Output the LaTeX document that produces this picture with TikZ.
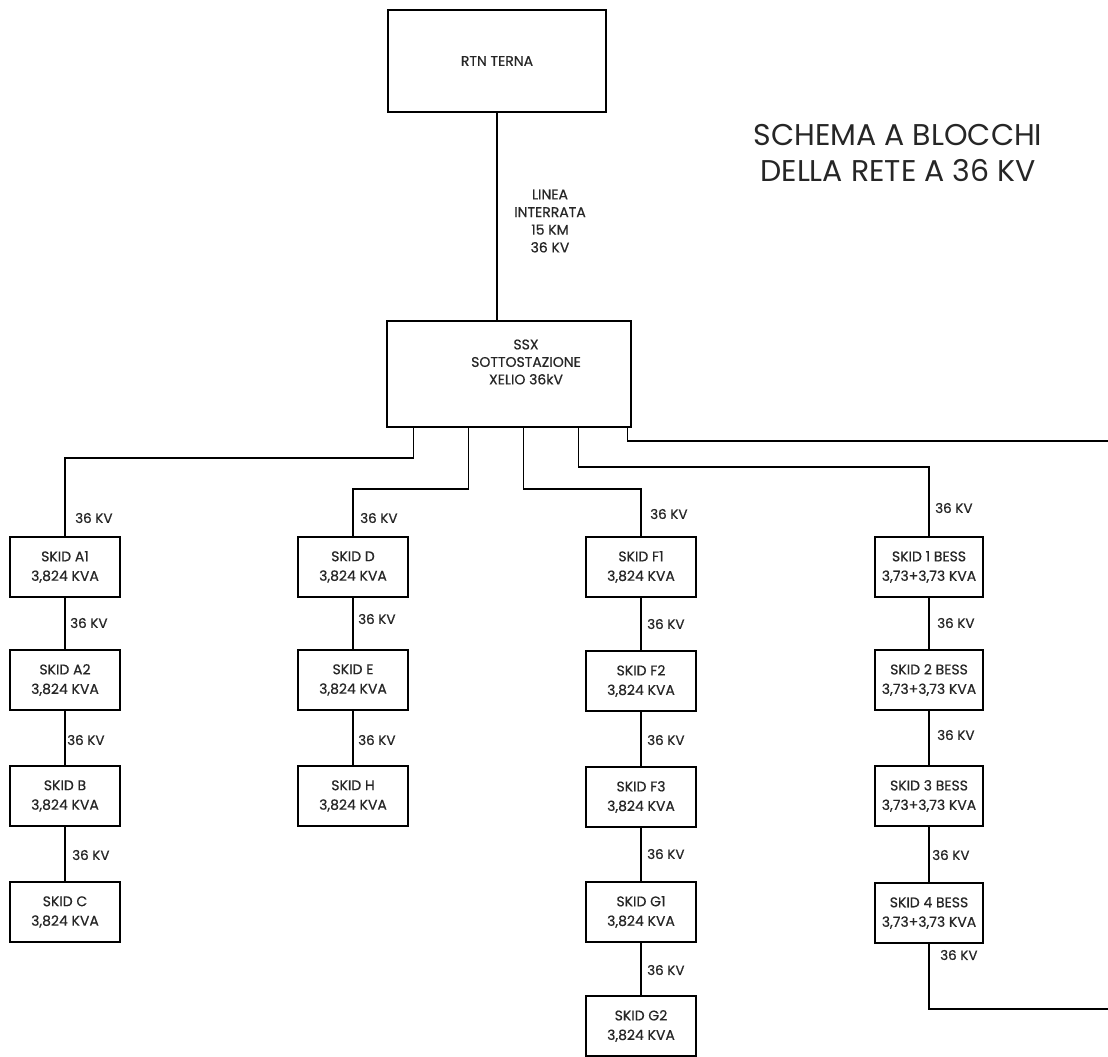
\documentclass[tikz,border=0pt]{standalone}
\usepackage{fontspec}
\setmainfont{Poppins}
\newfontfamily\etichetta{Poppins}[FakeBold=0.6]
\usetikzlibrary{positioning,calc}

\tikzset{
  blocco/.style={draw, rectangle, line width=1.5pt, minimum width=110pt, minimum height=60pt, inner sep=0pt, align=center, font=\etichetta\fontsize{14}{19.5}\selectfont, text=black!85},
  cavo/.style={line width=1.5pt},
  tensione/.style={anchor=west, inner sep=0pt, font=\etichetta\fontsize{13.5}{15}\selectfont, text=black!85}
}

\begin{document}
\begin{tikzpicture}[x=1pt, y=-1pt]
  \useasboundingbox (0,0) rectangle (1108,1057);

  % Rete e sottostazione
  \node[blocco, minimum width=218pt, minimum height=102pt] (rtn) at (497,61) {RTN TERNA};
  \node[blocco, minimum width=244pt, minimum height=106pt] (ssx) at (509,374) {};
  \node[align=center, inner sep=0pt, font=\etichetta\fontsize{14}{17.5}\selectfont, text=black!85] (ssxtxt) at (526,362) {SSX\\SOTTOSTAZIONE\\XELIO 36kV};
  \draw[cavo] (rtn) -- (rtn |- ssx.north);
  \node[align=center, inner sep=0pt, font=\etichetta\fontsize{14}{17.7}\selectfont, text=black!85] (linea) at (550,221) {LINEA\\INTERRATA\\15 KM\\36 KV};

  % Titolo
  \node[align=center, inner sep=0pt, font=\fontsize{30}{36}\selectfont, text=black!85] (titolo) at (898,153) {SCHEMA A BLOCCHI\\DELLA RETE A 36 KV};

  % Colonna A
  \node[blocco] (a1) at (65,567) {SKID A1\\3,824 KVA};
  \node[blocco] (a2) at (65,680) {SKID A2\\3,824 KVA};
  \node[blocco] (b) at (65,796) {SKID B\\3,824 KVA};
  \node[blocco] (c) at (65,912) {SKID C\\3,824 KVA};

  % Colonna D
  \node[blocco] (d) at (353,567) {SKID D\\3,824 KVA};
  \node[blocco] (e) at (353,680) {SKID E\\3,824 KVA};
  \node[blocco] (h) at (353,796) {SKID H\\3,824 KVA};

  % Colonna F
  \node[blocco] (f1) at (641,567) {SKID F1\\3,824 KVA};
  \node[blocco] (f2) at (641,681) {SKID F2\\3,824 KVA};
  \node[blocco] (f3) at (641,797) {SKID F3\\3,824 KVA};
  \node[blocco] (g1) at (641,912) {SKID G1\\3,824 KVA};
  \node[blocco] (g2) at (641,1026) {SKID G2\\3,824 KVA};

  % Colonna BESS
  \node[blocco, minimum width=108pt] (bess1) at (929,567) {SKID 1 BESS\\3,73+3,73 KVA};
  \node[blocco, minimum width=108pt] (bess2) at (929,680) {SKID 2 BESS\\3,73+3,73 KVA};
  \node[blocco, minimum width=108pt] (bess3) at (929,796) {SKID 3 BESS\\3,73+3,73 KVA};
  \node[blocco, minimum width=108pt] (bess4) at (929,913) {SKID 4 BESS\\3,73+3,73 KVA};

  % Uscite dalla sottostazione
  \coordinate (est1) at (1108,441);
  \coordinate (est2) at (1108,1009);
  \draw[cavo] ([xshift=27pt]ssx.south west) -- ++(0,30) -| (a1.north);
  \draw[cavo] ([xshift=82pt]ssx.south west) -- ++(0,61) -| (d.north);
  \draw[cavo] ([xshift=137pt]ssx.south west) -- ++(0,61) -| (f1.north);
  \draw[cavo] ([xshift=192pt]ssx.south west) -- ++(0,39) -| (bess1.north);
  \draw[cavo] ([xshift=241pt]ssx.south west) |- (est1);
  \draw[cavo] (bess4.south) |- (est2);

  % Collegamenti in serie
  \draw[cavo] (a1) -- (a2);
  \draw[cavo] (a2) -- (b);
  \draw[cavo] (b) -- (c);
  \draw[cavo] (d) -- (e);
  \draw[cavo] (e) -- (h);
  \draw[cavo] (f1) -- (f2);
  \draw[cavo] (f2) -- (f3);
  \draw[cavo] (f3) -- (g1);
  \draw[cavo] (g1) -- (g2);
  \draw[cavo] (bess1) -- (bess2);
  \draw[cavo] (bess2) -- (bess3);
  \draw[cavo] (bess3) -- (bess4);

  % Etichette di tensione
  \node[tensione] (ta1) at (75,518) {36 KV};
  \node[tensione] (ta2) at (70,623) {36 KV};
  \node[tensione] (tb) at (67,740) {36 KV};
  \node[tensione] (tc) at (72,855) {36 KV};
  \node[tensione] (td) at (360,518) {36 KV};
  \node[tensione] (te) at (358,619) {36 KV};
  \node[tensione] (th) at (358,740) {36 KV};
  \node[tensione] (tf1) at (650,514) {36 KV};
  \node[tensione] (tf2) at (647,624) {36 KV};
  \node[tensione] (tf3) at (647,740) {36 KV};
  \node[tensione] (tg1) at (647,854) {36 KV};
  \node[tensione] (tg2) at (647,970) {36 KV};
  \node[tensione] (tbess1) at (935,508) {36 KV};
  \node[tensione] (tbess2) at (937,623) {36 KV};
  \node[tensione] (tbess3) at (937,735) {36 KV};
  \node[tensione] (tbess4) at (932,855) {36 KV};
  \node[tensione] (tbess5) at (940,955) {36 KV};
\end{tikzpicture}
\end{document}
